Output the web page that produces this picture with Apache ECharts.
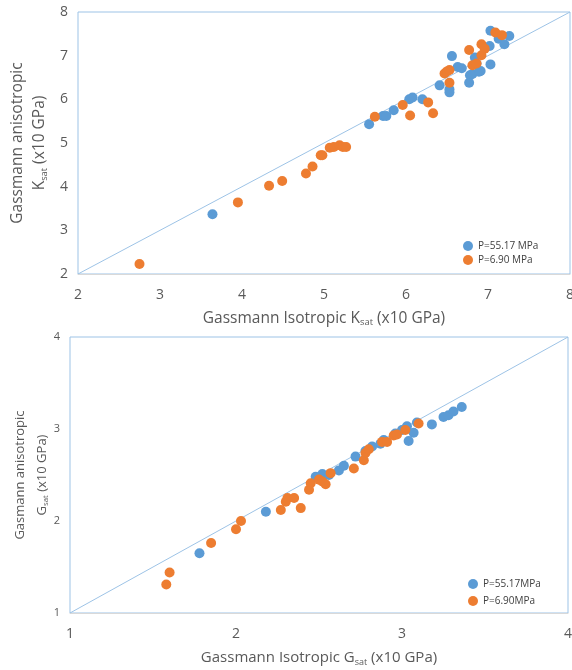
<!DOCTYPE html>
<html>
<head>
<meta charset="utf-8">
<script src="https://cdn.jsdelivr.net/npm/echarts@6/dist/echarts.min.js"></script>
<style>
  html, body { margin: 0; padding: 0; background: #fff; }
  #chart { width: 572px; height: 670px; }
</style>
</head>
<body>
<div id="chart"></div>
<script>
// K_sat (x10 GPa): [isotropic, anisotropic]
var kHigh = [
  [3.64, 3.37], [5.55, 5.43], [5.72, 5.62], [5.76, 5.62], [5.85, 5.75],
  [6.04, 6.00], [6.08, 6.04], [6.20, 6.00], [6.41, 6.32], [6.53, 6.23],
  [6.53, 6.16], [6.56, 6.99], [6.63, 6.74], [6.68, 6.71], [6.77, 6.38],
  [6.78, 6.55], [6.81, 6.58], [6.84, 6.96], [6.86, 6.82], [6.89, 6.63],
  [6.91, 6.65], [7.02, 7.22], [7.03, 6.80], [7.03, 7.57], [7.13, 7.39],
  [7.20, 7.26], [7.26, 7.45]
];
var kLow = [
  [2.75, 2.23], [3.95, 3.64], [4.33, 4.02], [4.49, 4.13], [4.78, 4.30],
  [4.86, 4.46], [4.96, 4.72], [4.98, 4.72], [5.07, 4.89], [5.12, 4.91],
  [5.19, 4.95], [5.23, 4.91], [5.27, 4.91], [5.62, 5.60], [5.96, 5.87],
  [6.05, 5.63], [6.27, 5.93], [6.33, 5.68], [6.47, 6.59], [6.50, 6.64],
  [6.53, 6.67], [6.53, 6.38], [6.77, 7.13], [6.81, 6.78], [6.86, 6.82],
  [6.92, 7.26], [6.96, 7.16], [6.92, 7.01], [7.09, 7.53], [7.17, 7.47]
];
// G_sat (x10 GPa): [isotropic, anisotropic]
var gHigh = [
  [1.78, 1.65], [2.18, 2.10], [2.48, 2.48], [2.52, 2.51], [2.56, 2.50],
  [2.62, 2.55], [2.65, 2.60], [2.72, 2.70], [2.78, 2.76], [2.82, 2.81],
  [2.87, 2.84], [2.89, 2.88], [2.96, 2.95], [3.00, 2.99], [3.03, 3.03],
  [3.04, 2.87], [3.07, 2.96], [3.09, 3.07], [3.18, 3.05], [3.25, 3.13],
  [3.28, 3.15], [3.31, 3.19], [3.36, 3.24]
];
var gLow = [
  [1.58, 1.31], [1.60, 1.44], [1.85, 1.76], [2.00, 1.91], [2.03, 2.00],
  [2.27, 2.12], [2.30, 2.21], [2.31, 2.25], [2.35, 2.25], [2.39, 2.14],
  [2.44, 2.34], [2.45, 2.41], [2.50, 2.45], [2.52, 2.43], [2.54, 2.40],
  [2.57, 2.52], [2.71, 2.57], [2.77, 2.66], [2.78, 2.74], [2.80, 2.78],
  [2.88, 2.86], [2.91, 2.86], [2.95, 2.93], [2.97, 2.94], [3.02, 2.99],
  [3.10, 3.06]
];
var kRange = [2, 8];
var gRange = [1, 4];
var kNames = ['P=55.17 MPa', 'P=6.90 MPa'];
var gNames = ['P=55.17MPa', 'P=6.90MPa'];

var BLUE = '#5b9bd5', ORANGE = '#ed7d31', DIAG = '#9dc3e6';
var FONT = 'Open Sans';
var LABEL = '#595959';

function titleRich(size, lh) {
  return {
    a: { fontSize: size, color: LABEL, fontFamily: FONT, lineHeight: lh },
    s: { fontSize: size * 0.6, color: LABEL, fontFamily: FONT,
         verticalAlign: 'middle', padding: [size * 0.55, 0, 0, 0] }
  };
}

function xAxisOf(idx, range, name, size, tickSize, gap) {
  return {
    type: 'value', gridIndex: idx, min: range[0], max: range[1], interval: 1,
    axisLine: { show: true, lineStyle: { color: '#d9d9d9' } },
    axisTick: { show: false }, splitLine: { show: false },
    axisLabel: { color: LABEL, fontSize: tickSize, fontFamily: FONT, margin: 14 },
    name: name, nameLocation: 'middle', nameGap: gap, nameMoveOverlap: false,
    nameTextStyle: { rich: titleRich(size, size + 4) }
  };
}
function yAxisOf(idx, range, name, size, tickSize, gap) {
  return {
    type: 'value', gridIndex: idx, min: range[0], max: range[1], interval: 1,
    axisLine: { show: false },
    axisTick: { show: false }, splitLine: { show: false },
    axisLabel: { color: LABEL, fontSize: tickSize, fontFamily: FONT, margin: 10 },
    name: name, nameLocation: 'middle', nameGap: gap, nameRotate: 90, nameMoveOverlap: false,
    nameTextStyle: { rich: titleRich(size, 22), align: 'center' }
  };
}
function scatter(name, data, idx, color) {
  return {
    name: name, type: 'scatter', xAxisIndex: idx, yAxisIndex: idx, data: data,
    symbolSize: 10, itemStyle: { color: color, opacity: 1 }, z: 3
  };
}
function diagonal(range, idx) {
  return {
    type: 'line', xAxisIndex: idx, yAxisIndex: idx, silent: true, symbol: 'none',
    data: [[range[0], range[0]], [range[1], range[1]]],
    lineStyle: { color: DIAG, width: 1 }, z: 2
  };
}

var chart = echarts.init(document.getElementById('chart'), null, { renderer: 'canvas' });
chart.setOption({
  backgroundColor: '#fff',
  animation: false,
  grid: [
    { left: 78, right: 2, top: 12, height: 262, show: true, borderColor: DIAG, borderWidth: 1,
      containLabel: false, outerBoundsMode: 'none' },
    { left: 70, right: 4, top: 337, height: 276, show: true, borderColor: DIAG, borderWidth: 1,
      containLabel: false, outerBoundsMode: 'none' }
  ],
  xAxis: [
    xAxisOf(0, kRange, '{a|Gassmann Isotropic K}{s|sat}{a| (x10 GPa)}', 15.5, 14, 34.5),
    xAxisOf(1, gRange, '{a|Gassmann Isotropic G}{s|sat}{a| (x10 GPa)}', 15, 14, 35.5)
  ],
  yAxis: [
    yAxisOf(0, kRange, '{a|Gassmann anisotropic}\n{a|K}{s|sat}{a| (x10 GPa)}', 15.5, 14, 27),
    yAxisOf(1, gRange, '{a|Gasmann anisotropic}\n{a|G}{s|sat}{a| (x10 GPa)}', 13, 11, 17)
  ],
  legend: [
    {
      data: kNames, orient: 'vertical', left: 458, top: 236, itemGap: 4,
      icon: 'circle', itemWidth: 10, itemHeight: 10,
      textStyle: { color: '#404040', fontSize: 10, fontFamily: FONT }
    },
    {
      data: gNames, orient: 'vertical', left: 463, top: 574, itemGap: 7,
      icon: 'circle', itemWidth: 10, itemHeight: 10,
      textStyle: { color: '#404040', fontSize: 10, fontFamily: FONT }
    }
  ],
  series: [
    diagonal(kRange, 0),
    scatter(kNames[0], kHigh, 0, BLUE),
    scatter(kNames[1], kLow, 0, ORANGE),
    diagonal(gRange, 1),
    scatter(gNames[0], gHigh, 1, BLUE),
    scatter(gNames[1], gLow, 1, ORANGE)
  ]
});
</script>
</body>
</html>
